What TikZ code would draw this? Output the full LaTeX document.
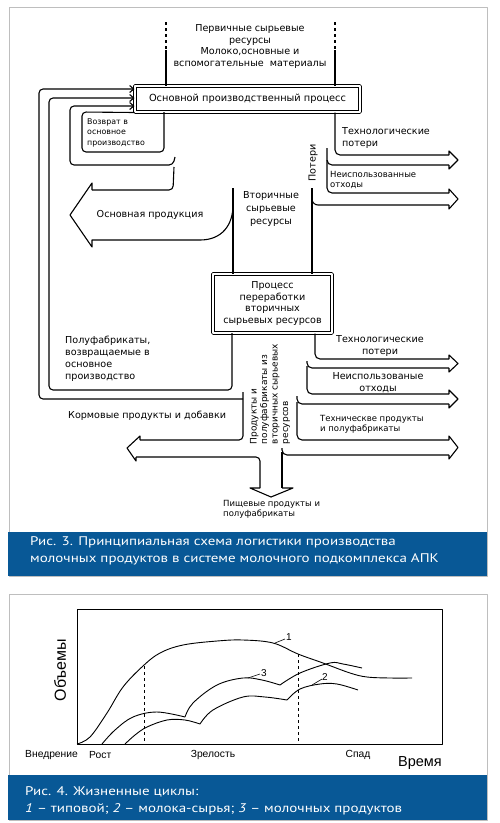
\documentclass[tikz,border=0pt]{standalone}
\usepackage{fontspec}
\setmainfont{DejaVu Sans}
\newfontfamily\arial{Liberation Sans}
\newfontfamily\capfont[FakeStretch=1.2]{PT Sans}
\usepackage{tikz}
\usetikzlibrary{arrows.meta}
\definecolor{capblue}{RGB}{8,88,150}
\definecolor{framegray}{RGB}{190,190,190}

\begin{document}
\begin{tikzpicture}[x=1pt, y=-1pt, line join=round,
  ln/.style={line width=1.1pt},
  pbox/.style={draw, line width=1pt, double, double distance=1.5pt, inner sep=0pt},
  txt/.style={font=\fontsize{9.6}{12}\selectfont, align=left, inner sep=0pt},
  sm/.style={font=\fontsize{8.5}{10}\selectfont, align=left, inner sep=0pt},
  backarrow/.style={-{Straight Barb[length=4pt, width=7pt]}},
  captxt/.style={font=\capfont\fontsize{12.5}{17}\selectfont, text=white, align=left, anchor=west, inner sep=0pt},
  chart/.style={font=\arial\fontsize{10.3}{11}\selectfont, inner sep=0pt},
  crv/.style={line width=0.9pt}]
\useasboundingbox (0,0) rectangle (500,823);
\fill [white] (0,0) rectangle (500,823);

% upper panel
\draw [framegray] (9,7) rectangle (487,576);
\fill [capblue] (8,532) rectangle (487,576);
\node [captxt] (cap1) at (30,551) {Рис. 3. Принципиальная схема логистики производства\\молочных продуктов в системе молочного подкомплекса АПК};

\node [pbox, minimum width=225, minimum height=26, font=\fontsize{9.8}{10}\selectfont] (main) at (247.5,99) {Основной производственный процесс};
\node [pbox, minimum width=119, minimum height=59, align=center, font=\fontsize{9.6}{11.7}\selectfont] (proc) at (272.5,303.5) {Процесс\\переработки\\вторичных\\сырьевых ресурсов};

\draw [ln, dashed] (166,22) -- (166,50); \draw [ln] (166,50) -- (main.north -| 166,0);
\draw [ln, dashed] (335,22) -- (335,50); \draw [ln] (335,50) -- (main.north -| 335,0);
\node [txt, align=center, font=\fontsize{9.6}{11.6}\selectfont] (prim) at (250,46.5) {Первичные сырьевые\\ресурсы\\Молоко,основные и\\вспомогательные \ материалы};

% returns into the main process
\draw [ln, backarrow, rounded corners=4] (243,399) -- (39,399) -- (39,89) -- (main.west |- 0,89);
\draw [ln, backarrow, rounded corners=4] (232,333) -- (232,390) -- (49,390) -- (49,98) -- (main.west |- 0,98);
\draw [ln, backarrow, rounded corners=4] (175,157) -- (173,165) -- (70,165) -- (70,106) -- (main.west |- 0,106);
\draw [ln, rounded corners=4] (164,112) -- (164,152) -- (82,152) -- (82,112) -- (main.south west);
\node [sm, font=\fontsize{7.9}{10.5}\selectfont] (back) at (87,132.5) [anchor=west] {Возврат в\\основное\\производство};

% main product
\draw [ln, rounded corners=4] (174,167) -- (173,190) -- (92,190);
\draw [ln] (92,190) -- (92,183) -- (70,215) -- (92,247) -- (92,240) -- (200,240) .. controls (222,240) and (233,225) .. (233,205);
\node [txt] (prod) at (150,215) {Основная продукция};
\draw [ln] (233,188) -- (proc.north -| 233,0);
\node [txt, align=center, font=\fontsize{9.6}{12.8}\selectfont] (sec) at (271,209) {Вторичные\\сырьевые\\ресурсы};

% losses of the main process
\draw [ln, rounded corners=5] (main.south -| 335,0) -- (335,155) -- (449,155);
\draw [ln, rounded corners=5] (327,148) -- (327,165) -- (449,165);
\draw [ln, rounded corners=5] (327,160) -- (327,193) -- (449,193);
\draw [ln] (312,188) -- (proc.north -| 312,0);
\draw [ln, rounded corners=6] (312,192) -- (312,205) -- (449,205);
\foreach \a/\b in {155/165, 193/205}
  \draw [ln] (449,\a) -- (449,\a-4) -- (458,\a/2+\b/2) -- (449,\b+4) -- (449,\b);
\node [txt, rotate=90] (loss) at (313,163) {Потери};
\node [txt, anchor=west] (tl1) at (342,138) {Технологические\\потери};
\node [sm, anchor=west] (wa1) at (330,179.5) {Неиспользованные\\отходы};

% outputs of the processing
\draw [ln, rounded corners=5] (proc.south -| 315,0) -- (315,359) -- (449,359);
\draw [ln, rounded corners=5] (307,361) -- (307,368) -- (449,368);
\draw [ln, rounded corners=5] (307,366) -- (307,394) -- (449,394);
\draw [ln, rounded corners=5] (297,396) -- (297,404) -- (449,404);
\draw [ln, rounded corners=5] (297,402) -- (297,440) -- (449,440);
\draw [ln, rounded corners=5] (282,448) -- (282,455) -- (449,455);
\foreach \a/\b in {359/368, 394/404, 440/455}
  \draw [ln] (449,\a) -- (449,\a-4) -- (458,\a/2+\b/2) -- (449,\b+4) -- (449,\b);
\node [txt, align=center] (tl2) at (380,345.5) {Технологические\\потери};
\node [txt, align=center] (wa2) at (378,383) {Неиспользованые\\отходы};
\node [sm, anchor=west] (tech) at (320,424) {Техническве продукты\\и полуфабрикаты};

% feed products and food products
\draw [ln, rounded corners=4] (243,392) -- (243,440) -- (140,440);
\draw [ln] (140,440) -- (140,436) -- (127,448) -- (136,461) -- (136,457);
\draw [ln, rounded corners=4] (136,457) -- (260,457) -- (260,488);
\draw [ln] (282,452) -- (282,488);
\draw [ln] (260,488) -- (250,488) -- (271,497) -- (293,488) -- (282,488);
\node [txt] (polu) at (65,359) [anchor=west] {Полуфабрикаты,\\возвращаемые в\\основное\\производство};
\node [txt] (feed) at (68,416) [anchor=west] {Кормовые продукты и добавки};
\node [sm, rotate=90, font=\fontsize{9}{10.5}\selectfont] (rot) at (270,394) {Продукты и\\полуфабрикаты из\\вторичных сырьевых\\ресурсов};
\node [sm] (food) at (223,509.5) [anchor=west] {Пищевые продукты и\\полуфабрикаты};

% lower panel
\draw [framegray] (9,594) rectangle (487,820);
\fill [capblue] (8,775) rectangle (487,820);
\node [captxt] (cap2) at (25,801) {Рис. 4. Жизненные циклы:\\\textit{1} – типовой; \textit{2} – молока-сырья; \textit{3} – молочных продуктов};

\draw [line width=0.6pt] (77,609) rectangle (442,744);
\draw [dashed, line width=0.6pt] (144,666) -- (144,744);
\draw [dashed, line width=0.6pt] (298,654) -- (298,744);
\draw [crv] plot [smooth, tension=0.6] coordinates {(77,744) (90,737) (107,713) (123,687) (143,666) (160,653) (183,645) (217,641) (243,640) (273,643) (298,654) (323,663) (350,673) (367,677) (390,678) (412,678)};
\draw [crv] plot [smooth, tension=0.6] coordinates {(102,744) (115,730) (133,717) (157,712) (185,717)};
\draw [crv] plot [smooth, tension=0.6] coordinates {(185,717) (193,703) (217,685) (243,678) (262,680) (280,685)};
\draw [crv] plot [smooth, tension=0.6] coordinates {(280,685) (300,673) (330,663) (343,664) (362,668)};
\draw [crv] plot [smooth, tension=0.6] coordinates {(125,744) (135,735) (147,727) (167,720) (185,720) (200,724)};
\draw [crv] plot [smooth, tension=0.6] coordinates {(200,724) (213,710) (243,697) (265,697) (287,700)};
\draw [crv] plot [smooth, tension=0.6] coordinates {(287,700) (300,689) (320,684) (337,684) (358,690)};
\draw [line width=0.6pt] (275,643) -- (285,639); \node [chart, font=\arial\fontsize{10}{10}\selectfont] (n1) at (289,637) {1};
\draw [line width=0.6pt] (248,678) -- (260,674); \node [chart, font=\arial\fontsize{10}{10}\selectfont] (n3) at (264,673) {3};
\draw [line width=0.6pt] (312,685) -- (322,679); \node [chart, font=\arial\fontsize{10}{10}\selectfont] (n2) at (325,677) {2};

\node [chart, font=\arial\fontsize{16}{16}\selectfont, rotate=90] (vol) at (60,670) {Объемы};
\node [chart, anchor=west] (st1) at (25,755) {Внедрение};
\node [chart, anchor=west] (st2) at (89,755) {Рост};
\node [chart] (st3) at (213,755) {Зрелость};
\node [chart] (st4) at (358,755) {Спад};
\node [chart, font=\arial\fontsize{14.5}{14.5}\selectfont] (time) at (420,763) {Время};
\end{tikzpicture}
\end{document}
